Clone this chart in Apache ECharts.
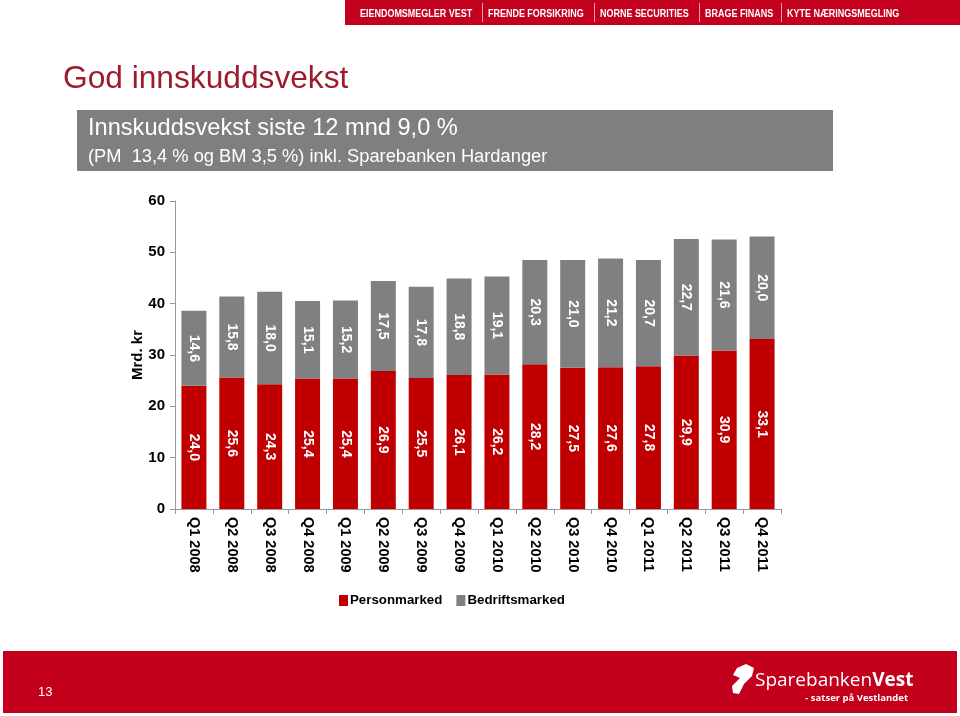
<!DOCTYPE html>
<html>
<head>
<meta charset="utf-8">
<script src="https://cdn.jsdelivr.net/npm/echarts@6/dist/echarts.min.js"></script>
<style>
html,body{margin:0;padding:0;background:#fff;}
#c{width:960px;height:716px;}
</style>
</head>
<body>
<div id="c"></div>
<script>
const categories = ['Q1 2008','Q2 2008','Q3 2008','Q4 2008','Q1 2009','Q2 2009','Q3 2009','Q4 2009','Q1 2010','Q2 2010','Q3 2010','Q4 2010','Q1 2011','Q2 2011','Q3 2011','Q4 2011'];
const personmarked = [24.0,25.6,24.3,25.4,25.4,26.9,25.5,26.1,26.2,28.2,27.5,27.6,27.8,29.9,30.9,33.1];
const bedriftsmarked = [14.6,15.8,18.0,15.1,15.2,17.5,17.8,18.8,19.1,20.3,21.0,21.2,20.7,22.7,21.6,20.0];
const yTicks = [0,10,20,30,40,50,60];
const headerItems = ['EIENDOMSMEGLER VEST','FRENDE FORSIKRING','NORNE SECURITIES','BRAGE FINANS','KYTE NÆRINGSMEGLING'];

const FONT = '"Liberation Sans", Arial, sans-serif';
const RED = '#c00000';
const GRAY = '#808080';
const fmt = p => p.value.toFixed(1).replace('.', ',');

const chart = echarts.init(document.getElementById('c'));

const headerX = [360, 488, 600, 705, 787];
const headerGraphics = [];
headerGraphics.push({type:'rect', shape:{x:345, y:0, width:615, height:25}, style:{fill:'#c4001f'}});
headerItems.forEach((t, i) => {
  headerGraphics.push({type:'text', x:headerX[i], y:14, scaleX:0.78, style:{text:t, fill:'#fff', font:'bold 11.5px "Liberation Sans", sans-serif', textVerticalAlign:'middle'}});
  if (i > 0) headerGraphics.push({type:'rect', shape:{x:headerX[i]-6, y:3, width:1, height:19}, style:{fill:'#f0a0a8'}});
});

const option = {
  animation: false,
  textStyle: {fontFamily: FONT},
  grid: {left: 175, right: 179, top: 201, bottom: 207, containLabel: false},
  legend: {
    data: ['Personmarked','Bedriftsmarked'],
    left: 334, top: 589,
    itemWidth: 9, itemHeight: 11, itemGap: 14,
    icon: 'rect',
    textStyle: {fontFamily: FONT, fontWeight: 'bold', fontSize: 13.3, color: '#000', padding:[0,0,0,-3]}
  },
  xAxis: {
    type: 'category',
    data: categories,
    axisLine: {lineStyle: {color: '#999'}},
    axisTick: {show: true, alignWithLabel: false, length: 5, lineStyle: {color: '#999'}},
    axisLabel: {rotate: -90, fontFamily: FONT, fontWeight: 'bold', fontSize: 14.5, color: '#000', margin: 8}
  },
  yAxis: {
    type: 'value',
    min: 0, max: 60, interval: 10,
    name: 'Mrd. kr',
    nameLocation: 'middle',
    nameGap: 37,
    nameMoveOverlap: false,
    nameRotate: 90,
    nameTextStyle: {fontFamily: FONT, fontWeight: 'bold', fontSize: 15, color: '#000', verticalAlign: 'middle'},
    axisLine: {show: true, lineStyle: {color: '#999'}},
    axisTick: {show: true, length: 5, lineStyle: {color: '#999'}},
    splitLine: {show: false},
    axisLabel: {fontFamily: FONT, fontWeight: 'bold', fontSize: 15, color: '#000', margin: 10,
      formatter: v => yTicks.includes(v) ? String(v) : ''}
  },
  series: [
    {
      name: 'Personmarked', type: 'bar', stack: 'total', data: personmarked,
      barWidth: 25,
      itemStyle: {color: RED},
      label: {show: true, position: 'inside', rotate: -90, color: '#fff', fontWeight: 'bold', fontSize: 14, fontFamily: FONT, formatter: fmt}
    },
    {
      name: 'Bedriftsmarked', type: 'bar', stack: 'total', data: bedriftsmarked,
      barWidth: 25,
      itemStyle: {color: GRAY},
      label: {show: true, position: 'inside', rotate: -90, color: '#fff', fontWeight: 'bold', fontSize: 14, fontFamily: FONT, formatter: fmt}
    }
  ],
  graphic: headerGraphics.concat([
    {type:'text', x:63, y:79, style:{text:'God innskuddsvekst', fill:'#9b1c2e', font:'31.7px ' + FONT, textVerticalAlign:'middle'}},
    {type:'rect', shape:{x:77, y:110, width:756, height:61}, style:{fill:'#7f7f7f'}},
    {type:'text', x:88, y:128, style:{text:'Innskuddsvekst siste 12 mnd 9,0 %', fill:'#fff', font:'23.6px ' + FONT, textVerticalAlign:'middle'}},
    {type:'text', x:88, y:157, style:{text:'(PM  13,4 % og BM 3,5 %) inkl. Sparebanken Hardanger', fill:'#fff', font:'18.3px ' + FONT, textVerticalAlign:'middle'}},
    {type:'rect', shape:{x:3, y:651, width:954, height:62}, style:{fill:'#c2001c'}},
    {type:'text', x:38, y:692, style:{text:'13', fill:'#fff', font:'13px ' + FONT, textVerticalAlign:'middle'}},
    {type:'polygon', shape:{points:[[737,668],[746,664],[754,668],[752,676],[744,684],[739,694],[733,693],[732,686],[740,678],[733,675]]}, style:{fill:'#fff'}},
    {type:'text', x:755, y:681, style:{text:'{a|Sparebanken}{b|Vest}', fill:'#fff', textVerticalAlign:'middle',
      rich:{a:{fontFamily:'"Open Sans", sans-serif', fontSize:19, color:'#fff'}, b:{fontFamily:'"Open Sans", sans-serif', fontSize:19, fontWeight:'bold', color:'#fff'}}}},
    {type:'text', x:908, y:698, style:{text:'- satser på Vestlandet', fill:'#fff', font:'bold 9.5px "Open Sans", sans-serif', textAlign:'right', textVerticalAlign:'middle'}}
  ])
};
chart.setOption(option);
</script>
</body>
</html>
